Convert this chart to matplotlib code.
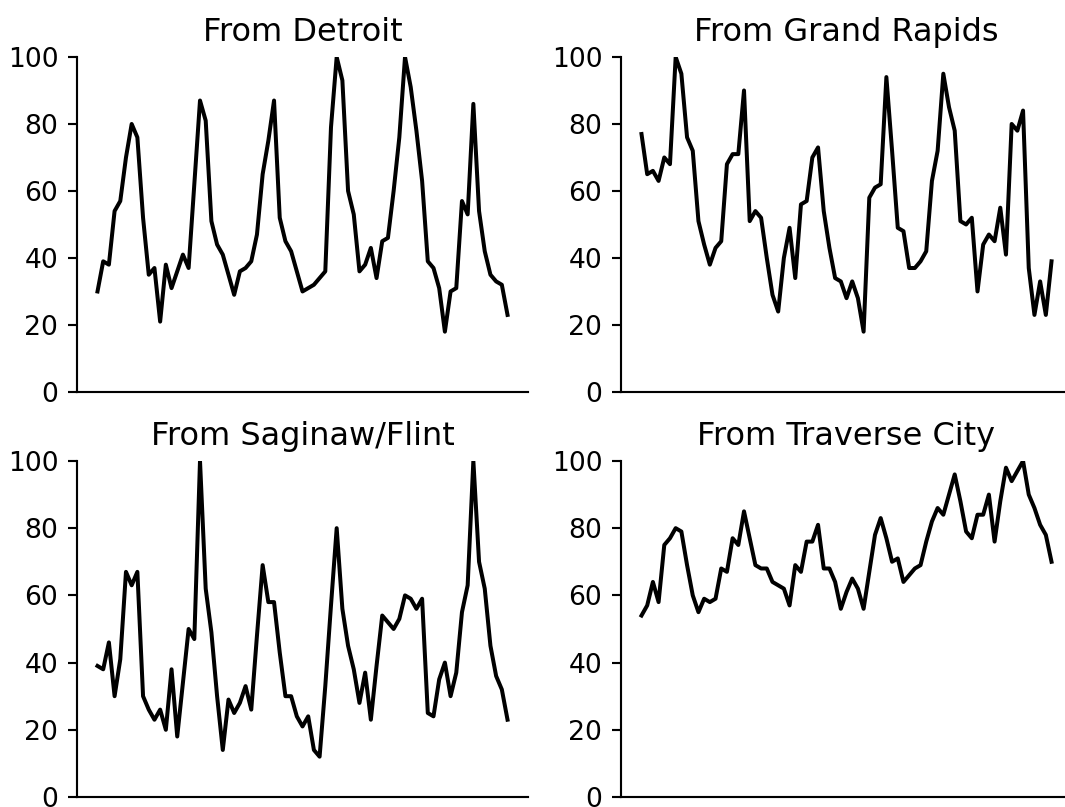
import numpy as np
import matplotlib.pyplot as plt

# monthly search interest, 0-100
detroit = [30, 39, 38, 54, 57, 70, 80, 76, 52, 35, 37, 21, 38, 31, 36, 41, 37, 62, 87, 81,
           51, 44, 41, 35, 29, 36, 37, 39, 47, 65, 75, 87, 52, 45, 42, 36, 30, 31, 32, 34,
           36, 79, 100, 93, 60, 53, 36, 38, 43, 34, 45, 46, 60, 76, 100, 91, 78, 63, 39, 37,
           31, 18, 30, 31, 57, 53, 86, 54, 42, 35, 33, 32, 23]
grand_rapids = [77, 65, 66, 63, 70, 68, 100, 95, 76, 72, 51, 44, 38, 43, 45, 68, 71, 71, 90, 51,
                54, 52, 40, 29, 24, 40, 49, 34, 56, 57, 70, 73, 54, 43, 34, 33, 28, 33, 28, 18,
                58, 61, 62, 94, 72, 49, 48, 37, 37, 39, 42, 63, 72, 95, 85, 78, 51, 50, 52, 30,
                44, 47, 45, 55, 41, 80, 78, 84, 37, 23, 33, 23, 39]
saginaw = [39, 38, 46, 30, 41, 67, 63, 67, 30, 26, 23, 26, 20, 38, 18, 34, 50, 47, 100, 62,
           49, 30, 14, 29, 25, 28, 33, 26, 48, 69, 58, 58, 43, 30, 30, 24, 21, 24, 14, 12,
           33, 57, 80, 56, 45, 38, 28, 37, 23, 39, 54, 52, 50, 53, 60, 59, 56, 59, 25, 24,
           35, 40, 30, 37, 55, 63, 100, 70, 62, 45, 36, 32, 23]
traverse = [54, 57, 64, 58, 75, 77, 80, 79, 69, 60, 55, 59, 58, 59, 68, 67, 77, 75, 85, 77,
            69, 68, 68, 64, 63, 62, 57, 69, 67, 76, 76, 81, 68, 68, 64, 56, 61, 65, 62, 56,
            67, 78, 83, 77, 70, 71, 64, 66, 68, 69, 76, 82, 86, 84, 90, 96, 88, 79, 77, 84,
            84, 90, 76, 88, 98, 94, 97, 100, 90, 86, 81, 78, 70]

titles = ['From Detroit', 'From Grand Rapids', 'From Saginaw/Flint', 'From Traverse City']
series = [detroit, grand_rapids, saginaw, traverse]

dpi = 192
fig = plt.figure(figsize=(1065 / dpi, 807 / dpi), dpi=dpi)

# axes boxes in figure fractions: left, bottom, width, height
boxes = [[0.0723, 0.5143, 0.4235, 0.4151],
         [0.5831, 0.5143, 0.4235, 0.4151],
         [0.0723, 0.0124, 0.4235, 0.4164],
         [0.5831, 0.0124, 0.4235, 0.4164]]

for box, title, y in zip(boxes, titles, series):
    ax = fig.add_axes(box)
    x = np.arange(len(y))
    ax.plot(x, y, color='black')
    ax.set_title(title)
    ax.set_ylim(0, 100)
    ax.set_xticks([])
    ax.spines['top'].set_visible(False)
    ax.spines['right'].set_visible(False)

plt.savefig('out.png', dpi=dpi)
